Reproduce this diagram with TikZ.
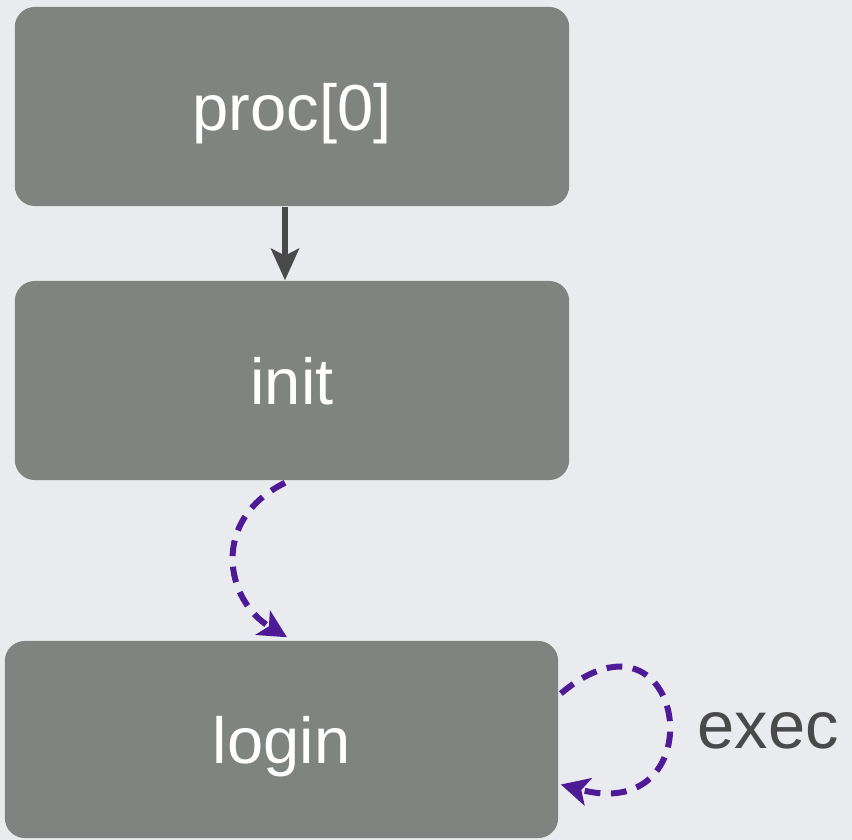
\documentclass[tikz,border=0pt]{standalone}
\usepackage{fontspec}
\setmainfont{Liberation Sans}
\usetikzlibrary{arrows.meta,calc}
\definecolor{bggray}{RGB}{234,235,238}
\definecolor{boxgray}{RGB}{127,132,128}
\definecolor{linegray}{RGB}{74,74,74}
\definecolor{execpurple}{RGB}{78,26,150}
\begin{document}
\begin{tikzpicture}[x=0.01cm,y=-0.01cm,
    procbox/.style={fill=boxgray,rounded corners=0.2cm,minimum width=5.54cm,
      minimum height=1.99cm,text=white,text height=17pt,text depth=3.5pt,
      font=\fontsize{18.5}{22}\selectfont},
    flow/.style={draw=execpurple,line width=1.7pt,dash pattern=on 4.5pt off 3pt,
      -{Stealth[length=8pt,width=8pt,inset=2pt]}}]
    \fill[bggray] (0,0) rectangle (852,840);
    \useasboundingbox (0,0) rectangle (852,840);
    \node[procbox] (proc) at (292,106.5) {proc[0]};
    \node[procbox] (init) at (292,380.5) {init};
    \node[procbox,minimum width=5.53cm,minimum height=1.97cm] (login) at (281.5,739.5) {login};
    \node[text=linegray,font=\fontsize{19}{22}\selectfont] (exec) at (768,731) {exec};
    \draw[linegray,line width=1.6pt,-{Stealth[length=9pt,width=8pt,inset=2pt]}]
      (proc.south -| 285,0) -- (init.north -| 285,0);
    % fork/exec chain
    \draw[flow] ($(init.south)+(-7,2)$) .. controls (210,520) and (225,600) .. ($(login.north)+(5.5,-3)$);
    \draw[flow] ($(login.east)+(2,-46)$) to[out=40,in=-15,looseness=4.6] ($(login.east)+(2,45)$);
  \end{tikzpicture}
\end{document}
